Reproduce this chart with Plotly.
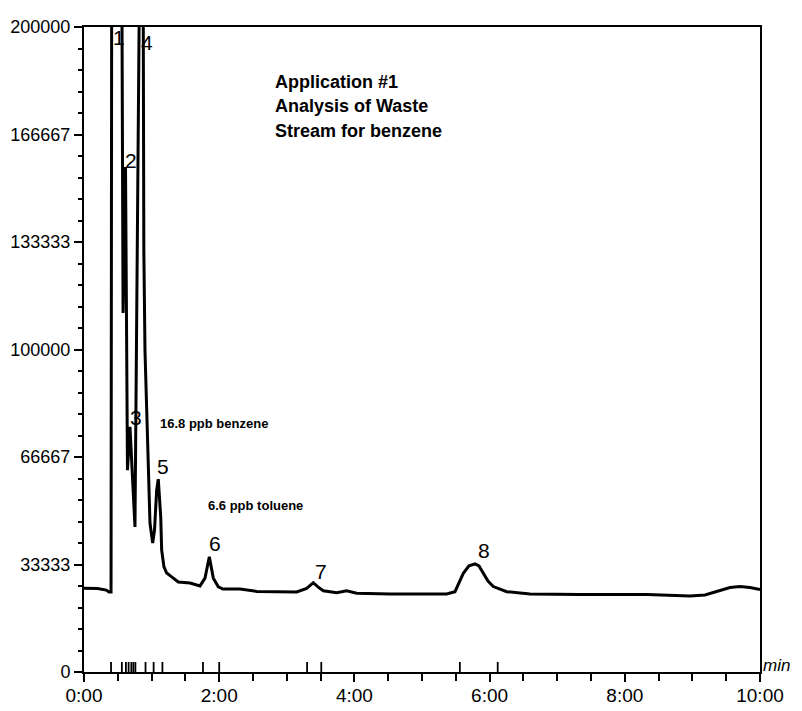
import plotly.graph_objects as go

# ---- data ----
time_min = [0.00, 0.20, 0.33, 0.37, 0.40, 0.412, 0.552, 0.578, 0.614, 0.643, 0.680, 0.754,
            0.815, 0.822, 0.870, 0.885, 0.902, 0.927, 0.951, 0.976, 1.016, 1.043, 1.075,
            1.099, 1.135, 1.149, 1.183, 1.223, 1.297, 1.395, 1.568, 1.716, 1.790, 1.854,
            1.913, 1.987, 2.056, 2.308, 2.555, 3.146, 3.294, 3.392, 3.46, 3.540, 3.738,
            3.886, 4.034, 4.527, 5.365, 5.488, 5.611, 5.695, 5.784, 5.843, 5.907, 5.976,
            6.055, 6.253, 6.598, 7.337, 8.324, 8.964, 9.186, 9.29, 9.408, 9.556, 9.704,
            9.852, 10.0]
signal = [26000, 25900, 25400, 24800, 24800, 260000, 260000, 111300, 156600, 62600, 76000, 45000,
          200000, 260000, 260000, 131000, 99800, 79000, 58600, 46200, 40000, 44000, 56400,
          59800, 48000, 37800, 32600, 30700, 29500, 27900, 27600, 26700, 29100, 35700,
          29100, 26400, 25700, 25700, 25000, 24800, 25900, 27700, 26400, 25200, 24600,
          25200, 24400, 24200, 24200, 24900, 30600, 32900, 33500, 32900, 30600, 28200,
          26500, 24900, 24200, 24000, 24000, 23600, 23900, 24500, 25400, 26200, 26500,
          26200, 25600]

event_times = [0.40, 0.56, 0.62, 0.66, 0.70, 0.73, 0.76, 0.91, 1.03, 1.16, 1.76, 2.0,
               3.30, 3.51, 5.56, 6.12]

peak_names = ["1", "2", "3", "4", "5", "6", "7", "8"]
peak_label_t = [0.518, 0.695, 0.769, 0.932, 1.169, 1.938, 3.506, 5.917]
peak_label_v = [196900, 158700, 78800, 195300, 63600, 40000, 31300, 37800]

x_tickvals = [0, 2, 4, 6, 8, 10]
x_ticktext = ["0:00", "2:00", "4:00", "6:00", "8:00", "10:00"]
y_tickvals = [0, 33333, 66667, 100000, 133333, 166667, 200000]
y_ticktext = ["0", "33333", "66667", "100000", "133333", "166667", "200000"]

title_lines = ["Application #1", "Analysis of Waste", "Stream for benzene"]
title_v = [183000, 175500, 167800]
note_texts = ["16.8 ppb benzene", "6.6 ppb toluene"]
note_t = [1.095, 1.80]
note_v = [77000, 51600]
axis_unit = "min"

# ---- styles ----
FONT = "Liberation Sans, Arial, sans-serif"
MARK_H = 3100

ev_x, ev_y = [], []
for t in event_times:
    ev_x += [t, t, None]
    ev_y += [0, MARK_H, None]

fig = go.Figure()
fig.add_trace(go.Scatter(x=time_min, y=signal, mode="lines",
                         line=dict(color="black", width=3), hoverinfo="skip"))
fig.add_trace(go.Scatter(x=ev_x, y=ev_y, mode="lines",
                         line=dict(color="black", width=1.8), hoverinfo="skip"))

ann = []
for name, t, v in zip(peak_names, peak_label_t, peak_label_v):
    ann.append(dict(x=t, y=v, text=name, showarrow=False,
                    font=dict(family=FONT, size=21, color="black")))
for line, v in zip(title_lines, title_v):
    ann.append(dict(x=2.80, y=v, text=line, showarrow=False, xanchor="left",
                    font=dict(family=FONT, size=18, color="black", weight="bold")))
for txt, t, v in zip(note_texts, note_t, note_v):
    ann.append(dict(x=t, y=v, text=txt, showarrow=False, xanchor="left",
                    font=dict(family=FONT, size=13, color="black", weight="bold")))
ann.append(dict(xref="paper", yref="paper", x=1.047, y=0.010, text="<i>" + axis_unit + "</i>",
                showarrow=False, xanchor="right", yanchor="middle",
                font=dict(family=FONT, size=17, color="black")))

# the page body adds an 8px offset; keep the figure inside the 802x711 window
fig.update_layout(
    template="none",
    width=786, height=703,
    margin=dict(l=76, r=34, t=19, b=39, pad=0, autoexpand=False),
    paper_bgcolor="white", plot_bgcolor="white",
    showlegend=False,
    annotations=ann,
    font=dict(family=FONT, size=18, color="black"),
)
fig.update_xaxes(range=[0, 10], tickmode="array", tickvals=x_tickvals, ticktext=x_ticktext,
                 automargin=False,
                 ticks="outside", ticklen=8, tickwidth=2, tickcolor="black",
                 ticklabelstandoff=-3,
                 showline=True, linewidth=2, linecolor="black", mirror=True,
                 showgrid=False, zeroline=False,
                 tickfont=dict(family=FONT, size=19, color="black"),
                 minor=dict(tickmode="linear", tick0=0, dtick=0.5, ticks="outside",
                            ticklen=7, tickwidth=2, tickcolor="black", showgrid=False))
fig.update_yaxes(range=[0, 200000], tickmode="array", tickvals=y_tickvals, ticktext=y_ticktext,
                 automargin=False,
                 ticks="outside", ticklen=8, tickwidth=2, tickcolor="black",
                 showline=True, linewidth=2, linecolor="black", mirror=True,
                 showgrid=False, zeroline=False,
                 tickfont=dict(family=FONT, size=18, color="black"),
                 minor=dict(tickmode="linear", tick0=0, dtick=200000 / 30, ticks="outside",
                            ticklen=4, tickwidth=2, tickcolor="black", showgrid=False))

fig.write_html("out.html")
